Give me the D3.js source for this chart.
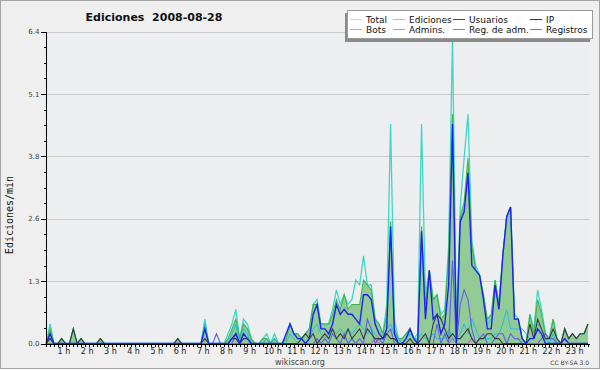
<!DOCTYPE html>
<html><head><meta charset="utf-8">
<script src="https://cdn.jsdelivr.net/npm/d3@7/dist/d3.min.js"></script>
<style>body{margin:0;background:#fff}svg{display:block}</style>
</head><body><svg id="c" width="600" height="370"></svg>
<script>
// ---- data (10-minute buckets, edits per minute) ----
const title = "Ediciones  2008-08-28";
const yLabel = "Ediciones/min";
const seriesNames = ["Total","Ediciones","Usuarios","IP","Bots","Admins.","Reg. de adm.","Registros"];
const hourLabels = [1,2,3,4,5,6,7,8,9,10,11,12,13,14,15,16,17,18,19,20,21,22,23];
const yTicks = [0,1.28,2.56,3.84,5.12,6.4];

const total = [0,.4,0,0,.1,0, 0,.3,0,.1,0,0, 0,0,.1,0,0,0, 0,0,0,0,0,0, 0,0,0,0,0,0, 0,0,0,0,.1,0,
 0,0,0,0,0,.5, 0,0,0,0,0,.2, .4,.7,.1,.5,.4,.1, 0,0,.1,.2,0,.2, 0,0,.1,.4,.2,.2, .1,.2,.3,.8,.9,.4,
 .4,.4,.7,1.1,.8,1.0, .8,.9,1.3,1.2,1.8,1.2, 1.2,.5,.4,.2,.8,4.5, .5,.1,.1,.2,.3,.1, .2,4.5,1.0,1.5,.9,1.0,
 .6,.7,2.0,6.3,.4,2.8, 3.8,4.7,2.1,1.6,1.4,1.0, .4,.5,1.3,.8,1.8,2.6, 2.8,.6,.5,.1,0,.6, .3,1.1,.7,.2,.1,.5,
 .1,0,.3,.1,.2,.1, .2,.2,.4];
const ediciones = [0,.3,0,0,.1,0, 0,.3,0,.1,0,0, 0,0,.1,0,0,0, 0,0,0,0,0,0, 0,0,0,0,0,0, 0,0,0,0,.1,0,
 0,0,0,0,0,.4, 0,0,0,0,0,.1, .3,.5,.1,.4,.3,.1, 0,0,.1,.1,0,.1, 0,0,.1,.4,.2,.2, .1,.2,.3,.8,.8,.4,
 .4,.4,.6,.9,.7,1.0, .7,.8,.8,.8,1.3,1.2, 1.1,.5,.4,.2,.6,2.5, .3,.1,.1,.2,.3,.1, .1,2.4,.8,1.5,.9,1.0,
 .5,.6,1.8,4.7,.3,2.6, 2.9,3.8,2.0,1.5,1.4,1.0, .5,.6,1.3,.8,1.8,2.6, 2.8,.5,.5,.1,0,.6, .2,.9,.6,.2,.1,.5,
 .1,0,.3,.1,.2,.1, .2,.2,.4];
const usuarios = [0,.2,0,0,0,0, 0,0,0,0,0,0, 0,0,0,0,0,0, 0,0,0,0,0,0, 0,0,0,0,0,0, 0,0,0,0,0,0,
 0,0,0,0,0,.3, 0,0,0,0,0,0, .1,.2,0,.2,.1,0, 0,0,0,0,0,0, 0,0,.2,.4,.2,.1, .1,0,.1,.6,.8,.3,
 .3,.2,.4,.8,.6,.7, .6,.6,.5,.4,1.0,1.0, .9,.4,.2,.1,.3,2.4, .2,0,0,.1,.3,.1, 0,2.3,.5,1.5,.5,.6,
 .2,.4,1.2,4.5,0,2.5, 2.7,3.5,1.6,1.5,1.4,.9, .3,.3,1.2,.7,1.8,2.6, 2.8,.5,.5,.1,0,.1, .1,.3,.2,0,0,0,
 0,0,.1,0,0,0, 0,0,0];
const ip = [0,.1,0,0,.1,0, 0,.3,0,.1,0,0, 0,0,.1,0,0,0, 0,0,0,0,0,0, 0,0,0,0,0,0, 0,0,0,0,.1,0,
 0,0,0,0,0,.1, 0,0,0,0,0,0, .1,.1,0,.1,.1,0, 0,0,0,0,0,0, 0,0,0,0,0,0, .1,.2,.1,.2,0,.1,
 .2,.1,.3,.1,.2,.1, .3,.1,.2,.3,.1,.3, .2,.1,.1,.1,.2,.1, .1,0,0,0,.1,0, 0,.1,.2,0,.4,.6,
 .5,.3,.1,.2,.1,.1, .2,.3,.1,0,.1,.1, .2,.2,.1,.1,0,0, 0,0,0,0,0,.4, .1,.5,.3,.1,.1,.3,
 .1,0,.3,.1,.2,.1, .2,.2,.4];
const bots = new Array(141).fill(0);
const admins = [0,.2,0,0,0,0, 0,0,0,0,0,0, 0,0,0,0,0,0, 0,0,0,0,0,0, 0,0,0,0,0,0, 0,0,0,0,0,0,
 0,0,0,0,0,.4, 0,0,0,0,0,0, .2,.4,0,.3,.2,0, 0,0,0,.1,0,.1, 0,0,0,.2,.1,0, 0,0,.1,.3,.4,.2,
 .1,.2,.3,.2,.3,.2, .3,.2,.3,.4,.3,.2, .3,.2,.1,.1,.3,.4, .2,.1,0,.1,.2,.1, .1,.2,.1,.1,.2,.1,
 .1,.1,.3,.1,.1,.2, .4,.2,.5,.3,.1,.1, .1,.1,.2,.2,.4,.7, .3,.3,.3,.3,.2,.1, .1,.4,.3,.1,0,.2,
 0,0,0,0,0,0, 0,0,0];
const regAdm = [0,0,0,0,0,0, 0,0,0,0,0,0, 0,0,0,0,0,0, 0,0,0,0,0,0, 0,0,0,0,0,0, 0,0,0,0,0,0,
 0,0,0,0,0,0, 0,0,0,0,0,0, 0,0,0,0,0,0, 0,0,0,0,0,0, 0,0,0,0,0,0, 0,0,0,0,0,0,
 0,0,0,0,0,0, 0,0,0,0,0,0, 0,.1,0,0,0,0, 0,0,0,0,0,0, 0,0,0,0,0,0,
 0,0,0,.1,0,0, 0,0,.1,0,0,0, 0,0,0,0,0,0, 0,0,0,0,0,0, 0,0,0,0,0,0,
 0,0,0,0,0,0, 0,0,0];
const registros = [.1,.1,0,0,0,0, 0,0,0,0,0,0, 0,0,0,0,0,0, 0,0,0,0,0,0, 0,0,0,0,0,0, 0,0,0,0,0,0,
 0,0,0,0,0,0, 0,0,.2,0,0,0, 0,.2,0,0,0,0, 0,0,0,0,0,0, 0,0,0,0,0,0, 0,0,0,0,.1,0,
 .1,0,.2,.1,0,.2, 0,.1,0,.1,0,.5, .3,0,.1,0,.2,.3, 0,0,0,0,0,0, 0,0,0,0,0,.4,
 0,.2,0,1.7,0,.8, 1.1,.9,.3,0,.1,.2, 0,0,.1,.2,.2,0, .2,.1,.1,0,0,0, 0,0,.1,.2,.1,.1,
 0,0,0,0,0,0, 0,0,0];
const hours = d3.range(total.length).map(i => i / 6);

// ---- drawing ----
const svg = d3.select("#c");
const W = 600, H = 370;
const x = d3.scaleLinear().domain([0, 23.4]).range([46.2, 589.5]);
const y = d3.scaleLinear().domain([0, 6.4]).range([343.5, 31.5]);

svg.append("rect").attr("x",0).attr("y",0).attr("width",W).attr("height",H).attr("fill","#fff");
svg.append("rect").attr("x",0.5).attr("y",0.5).attr("width",W-1).attr("height",368).attr("fill","#efefef").attr("stroke","#a4a4a4");

// plot background
svg.append("rect").attr("x", x(0)).attr("y", y(6.4)).attr("width", x(23.4)-x(0)).attr("height", y(0)-y(6.4)).attr("fill","#edeef0");

// grid
svg.append("g").selectAll("line").data(yTicks.slice(1)).join("line")
  .attr("x1", x(0)).attr("x2", x(23.4)).attr("y1", d => Math.round(y(d))+0.5).attr("y2", d => Math.round(y(d))+0.5)
  .attr("stroke","#cbcbcb").attr("stroke-width",1);

const seriesColors = {
  "Total":"#3fd6c6","Ediciones":"#3fb548","Usuarios":"#1f22ee","IP":"#3a3a3a",
  "Bots":"#f59a2c","Admins.":"#22bfdc","Reg. de adm.":"#c83cd0","Registros":"#6060ec"
};
const legendColors = {
  "Total":"#a8e8e4","Ediciones":"#92d896","Usuarios":"#3535e8","IP":"#333333",
  "Bots":"#f5a040","Admins.":"#50c8dc","Reg. de adm.":"#d050d8","Registros":"#7878ec"
};

const line = vals => d3.line().x((d,i) => x(hours[i])).y(d => y(d))(vals);
const area = d3.area().x((d,i) => x(hours[i])).y0(y(0)).y1(d => y(d));

svg.append("path").attr("d", area(ediciones)).attr("fill","#90c994").attr("fill-opacity",0.97);

const order = [
  ["Total", total, 1.3],
  ["Ediciones", ediciones, 1.1],
  ["Bots", bots, 1],
  ["Admins.", admins, 1],
  ["Registros", registros, 1.1],
  ["Reg. de adm.", regAdm, 1],
  ["IP", ip, 1.1],
  ["Usuarios", usuarios, 1.4]
];
order.forEach(([name, vals, w]) => {
  svg.append("path").attr("d", line(vals)).attr("fill","none")
    .attr("stroke", seriesColors[name]).attr("stroke-width", w).attr("stroke-linejoin","miter");
});

// axes
const yAxis = svg.append("g").attr("transform","translate(46.5,0)");
yAxis.append("g").call(d3.axisLeft(y).tickValues(d3.range(0, 6.41, 0.32)).tickSize(3).tickFormat(""))
  .call(g => g.select(".domain").remove());
yAxis.append("g").call(d3.axisLeft(y).tickValues(yTicks).tickSize(6).tickFormat(d3.format(".1f")).tickPadding(1))
  .call(g => g.select(".domain").remove())
  .call(g => g.selectAll("text").attr("font-family","DejaVu Sans").attr("font-size","7px").attr("fill","#444"));
yAxis.selectAll("line").attr("stroke","#000").attr("shape-rendering","crispEdges");
svg.append("line").attr("x1",46.5).attr("x2",46.5).attr("y1",y(6.4)).attr("y2",y(0)+1)
  .attr("stroke","#000").attr("shape-rendering","crispEdges");

const xAxis = svg.append("g").attr("transform","translate(0,344)");
xAxis.append("g").call(d3.axisBottom(x).tickValues(d3.range(0, 23.41, 1/6)).tickSize(3).tickFormat(""))
  .call(g => g.select(".domain").remove());
xAxis.append("g").call(d3.axisBottom(x).tickValues(hourLabels).tickSize(0).tickPadding(4).tickFormat(h => h + " h"))
  .call(g => g.select(".domain").remove())
  .call(g => g.selectAll("text").attr("dx", -6).attr("font-family","DejaVu Sans").attr("font-size","8px").attr("fill","#222"));
xAxis.selectAll("line").attr("stroke","#000").attr("shape-rendering","crispEdges");
svg.append("line").attr("x1",46).attr("x2",x(23.4)).attr("y1",344.5).attr("y2",344.5)
  .attr("stroke","#000").attr("shape-rendering","crispEdges");

// texts
svg.append("text").attr("x",154).attr("y",21).attr("text-anchor","middle").style("white-space","pre")
  .attr("font-family","DejaVu Sans").attr("font-weight","bold").attr("font-size","11px").attr("fill","#111").text(title);
svg.append("text").attr("transform","translate(13,215) rotate(-90)").attr("text-anchor","middle")
  .attr("font-family","DejaVu Sans Mono").attr("font-size","10px").attr("fill","#111").text(yLabel);
svg.append("text").attr("x",300).attr("y",365).attr("text-anchor","middle")
  .attr("font-family","DejaVu Sans").attr("font-size","8px").attr("fill","#444").text("wikiscan.org");
svg.append("text").attr("x",589).attr("y",365).attr("text-anchor","end")
  .attr("font-family","DejaVu Sans").attr("font-size","6px").attr("fill","#444").text("CC BY-SA 3.0");

// legend
const lg = svg.append("g");
lg.append("rect").attr("x",345).attr("y",13).attr("width",245).attr("height",29).attr("fill","#8a8a8a");
lg.append("rect").attr("x",347.5).attr("y",10.5).attr("width",245).attr("height",28).attr("fill","#fff").attr("stroke","#9a9a9a");
const colX = [350, 393, 453, 530];
seriesNames.forEach((name, k) => {
  const col = k % 4, row = Math.floor(k / 4);
  const lx = colX[col], ly = 19.5 + row * 10;
  lg.append("line").attr("x1", lx).attr("x2", lx + 12).attr("y1", ly).attr("y2", ly)
    .attr("stroke", legendColors[name]).attr("stroke-width",1);
  lg.append("text").attr("x", lx + 16).attr("y", ly + 3.5)
    .attr("font-family","DejaVu Sans").attr("font-size","9px").attr("fill","#111").text(name);
});
</script></body></html>
